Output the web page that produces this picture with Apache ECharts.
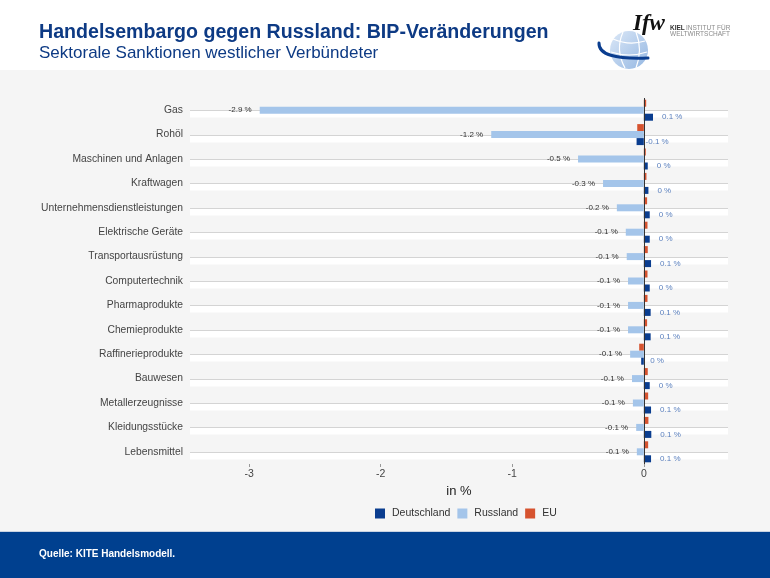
<!DOCTYPE html>
<html>
<head>
<meta charset="utf-8">
<script src="https://cdn.jsdelivr.net/npm/echarts@6/dist/echarts.min.js"></script>
<style>
html,body{margin:0;padding:0;background:#f5f5f5;}
#chart{width:770px;height:578px;}
</style>
</head>
<body>
<div id="chart"></div>
<script>
const categories = ['Gas','Rohöl','Maschinen und Anlagen','Kraftwagen','Unternehmensdienstleistungen','Elektrische Geräte','Transportausrüstung','Computertechnik','Pharmaprodukte','Chemieprodukte','Raffinerieprodukte','Bauwesen','Metallerzeugnisse','Kleidungsstücke','Lebensmittel'];
const deutschland = [0.07,-0.055,0.03,0.035,0.045,0.045,0.055,0.045,0.052,0.052,-0.02,0.045,0.055,0.057,0.055];
const russland = [-2.92,-1.16,-0.50,-0.31,-0.205,-0.137,-0.13,-0.12,-0.12,-0.12,-0.104,-0.09,-0.083,-0.058,-0.053];
const eu = [0.018,-0.05,0.015,0.02,0.025,0.028,0.03,0.028,0.028,0.025,-0.035,0.03,0.033,0.035,0.033];
const xTicks = [-3,-2,-1,0];
const seriesNames = ['Deutschland','Russland','EU'];

const colors = {Deutschland:'#0a3d8f', Russland:'#a4c5ea', EU:'#d6532f'};
const FONT = 'Liberation Sans, Arial, Helvetica, sans-serif';

function fmt(v){
  const r = Math.round(v*10)/10;
  return (r === 0 ? '0' : String(r)) + ' %';
}

const chart = echarts.init(document.getElementById('chart'), null, {renderer:'canvas'});

const option = {
  backgroundColor:'#f5f5f5',
  animation:false,
  textStyle:{fontFamily:FONT},
  graphic:[
    {type:'rect', z:-10, shape:{x:0,y:0,width:770,height:70}, style:{fill:'#ffffff'}},
    {type:'rect', z:-10, shape:{x:0,y:532,width:770,height:46}, style:{fill:'#00408f'}},
    {type:'rect', z:-10, shape:{x:0,y:531,width:770,height:1}, style:{fill:'#c9d3e2'}},
    {type:'text', style:{text:'Handelsembargo gegen Russland: BIP-Veränderungen', x:39, y:33, verticalAlign:'middle', font:'bold 19.6px '+FONT, fill:'#0d3a84'}},
    {type:'text', style:{text:'Sektorale Sanktionen westlicher Verbündeter', x:39, y:53, verticalAlign:'middle', font:'17px '+FONT, fill:'#0d3a84'}},
    {type:'text', style:{text:'Quelle: KITE Handelsmodell.', x:39, y:554, verticalAlign:'middle', font:'bold 10px '+FONT, fill:'#ffffff'}},
    // logo
    {type:'circle', shape:{cx:629, cy:50, r:19}, style:{fill:new echarts.graphic.LinearGradient(0,0,1,1,[{offset:0,color:'#dce8f7'},{offset:1,color:'#94b7e2'}])}},
    {type:'bezierCurve', shape:{x1:613,y1:39,x2:645,y2:41,cpx1:629,cpy1:46}, style:{fill:null, stroke:'#ffffff', lineWidth:1.2}},
    {type:'bezierCurve', shape:{x1:611,y1:52,x2:647,y2:52,cpx1:629,cpy1:58}, style:{fill:null, stroke:'#ffffff', lineWidth:1.2}},
    {type:'bezierCurve', shape:{x1:623,y1:32,x2:625,y2:68,cpx1:615,cpy1:50}, style:{fill:null, stroke:'#ffffff', lineWidth:1.2}},
    {type:'bezierCurve', shape:{x1:636,y1:32,x2:636,y2:68,cpx1:643,cpy1:50}, style:{fill:null, stroke:'#ffffff', lineWidth:1.2}},
    {type:'bezierCurve', shape:{x1:599,y1:43,x2:648,y2:58,cpx1:598,cpy1:60}, style:{fill:null, stroke:'#0a3d8f', lineWidth:3, lineCap:'round'}},
    {type:'text', style:{text:'Ifw', x:633, y:36, verticalAlign:'bottom', font:'italic bold 23px Liberation Serif, serif', fill:'#111111'}},
    {type:'text', style:{text:'KIEL', x:670, y:28, verticalAlign:'middle', font:'bold 6.5px '+FONT, fill:'#333333'}},
    {type:'text', style:{text:'INSTITUT FÜR', x:686, y:28, verticalAlign:'middle', font:'6.5px '+FONT, fill:'#8a8a8a'}},
    {type:'text', style:{text:'WELTWIRTSCHAFT', x:670, y:34.5, verticalAlign:'middle', font:'6.5px '+FONT, fill:'#8a8a8a'}}
  ],
  legend:{
    data:seriesNames,
    left:375, top:508, padding:0,
    itemWidth:10, itemHeight:10, itemGap:7,
    icon:'rect',
    textStyle:{fontSize:10.5, color:'#333', fontFamily:FONT, padding:[0,0,0,2]}
  },
  grid:{left:190, right:42, top:98, height:366, containLabel:false},
  xAxis:{
    type:'value', min:-3.45, max:0.64,
    name:'in %', nameLocation:'middle', nameGap:14,
    nameTextStyle:{fontSize:13, color:'#222', fontFamily:FONT, verticalAlign:'top'},
    axisLine:{show:false},
    splitLine:{show:false},
    axisTick:{show:true, customValues:xTicks, length:3, lineStyle:{color:'#999'}},
    axisLabel:{customValues:xTicks, fontSize:10.5, color:'#444', margin:5, formatter:v=>String(v)}
  },
  yAxis:{
    type:'category', data:categories, inverse:true,
    axisLine:{show:false},
    axisTick:{show:true, alignWithLabel:true, length:4, lineStyle:{color:'#aaa'}},
    axisLabel:{fontSize:10.3, color:'#444', margin:7},
    splitLine:{show:false}
  },
  series:[
    {
      type:'custom', name:'grid', silent:true, z:1,
      data:categories.map((c)=>[0,c]),
      encode:{x:0,y:1},
      renderItem:function(params, api){
        const cs = params.coordSys;
        const y = Math.round(api.coord([0, api.value(1)])[1]) + 0.5;
        return {type:'group', children:[
          {type:'rect', shape:{x:cs.x, y:y, width:cs.width, height:7}, style:{fill:'#ffffff'}},
          {type:'line', shape:{x1:cs.x, y1:y, x2:cs.x+cs.width, y2:y}, style:{stroke:'#d4d4d4', lineWidth:1}}
        ]};
      }
    },
    {
      type:'bar', name:'EU', data:eu, barWidth:7, barGap:'0%', z:3,
      itemStyle:{color:colors.EU}
    },
    {
      type:'bar', name:'Russland', data:russland, barWidth:7, barGap:'0%', z:3,
      itemStyle:{color:colors.Russland},
      label:{show:true, position:'left', distance:8, fontSize:8, color:'#333', fontFamily:FONT, formatter:p=>fmt(p.value)},
      markLine:{silent:true, symbol:'none', label:{show:false}, lineStyle:{color:'#333', width:1, type:'solid'}, data:[{xAxis:0}], z:5}
    },
    {
      type:'bar', name:'Deutschland', data:deutschland, barWidth:7, barGap:'0%', z:3,
      itemStyle:{color:colors.Deutschland}
    },
    {
      type:'scatter', name:'DE-Labels', silent:true, symbolSize:0, z:4,
      data:deutschland.map((v,i)=>[v, categories[i]]),
      label:{show:true, position:'right', distance:9, offset:[0,7], fontSize:8, color:'#2f5fae', fontFamily:FONT, formatter:p=>fmt(p.value[0])}
    }
  ]
};
chart.setOption(option);
</script>
</body>
</html>
